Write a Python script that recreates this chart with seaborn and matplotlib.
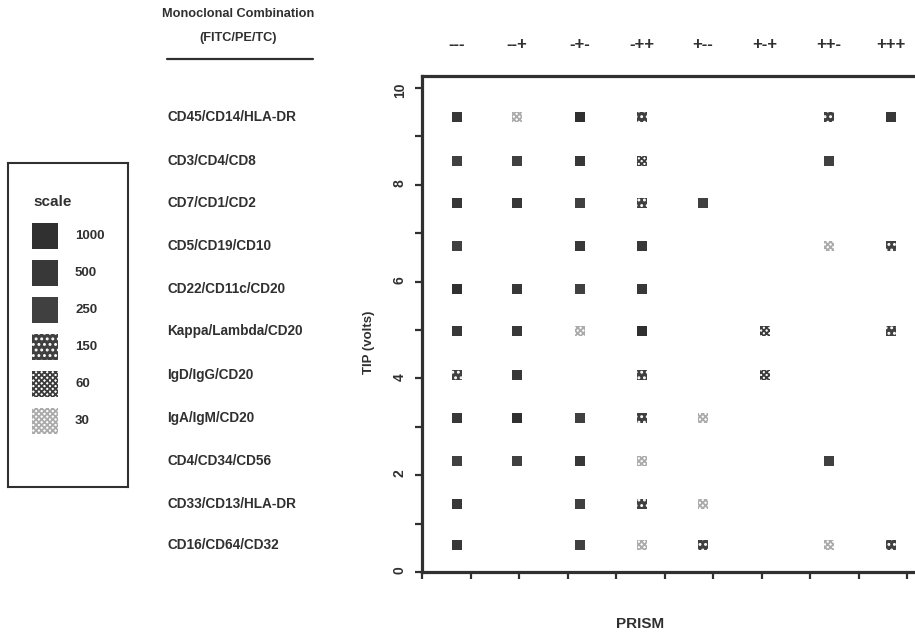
import matplotlib
matplotlib.use("Agg")
import numpy as np
import pandas as pd
import matplotlib.pyplot as plt
import matplotlib.transforms as mtransforms
import seaborn as sns

# antibody triplets (FITC/PE/TC), one per row, top to bottom
combos = ["CD45/CD14/HLA-DR", "CD3/CD4/CD8", "CD7/CD1/CD2", "CD5/CD19/CD10",
          "CD22/CD11c/CD20", "Kappa/Lambda/CD20", "IgD/IgG/CD20", "IgA/IgM/CD20",
          "CD4/CD34/CD56", "CD33/CD13/HLA-DR", "CD16/CD64/CD32"]
tip_volts = [9.4, 8.5, 7.62, 6.74, 5.85, 4.98, 4.07, 3.18, 2.29, 1.4, 0.56]

# sign patterns along PRISM
signs = ["---", "--+", "-+-", "-++", "+--", "+-+", "++-", "+++"]
prism = [0.72, 1.96, 3.26, 4.54, 5.79, 7.07, 8.39, 9.67]

scale = [1000, 500, 250, 150, 60, 30]

# events per cell (0 = empty), rows follow combos, columns follow signs
counts = [
    [500, 30, 1000, 150, 0, 0, 150, 500],
    [250, 250, 500, 60, 0, 0, 250, 0],
    [500, 500, 250, 150, 250, 0, 0, 0],
    [250, 0, 500, 500, 0, 0, 30, 150],
    [1000, 500, 250, 500, 0, 0, 0, 0],
    [500, 500, 30, 1000, 0, 60, 0, 150],
    [150, 500, 0, 150, 0, 60, 0, 0],
    [500, 1000, 250, 150, 30, 0, 0, 0],
    [250, 250, 500, 30, 0, 0, 250, 0],
    [500, 0, 250, 150, 30, 0, 0, 0],
    [500, 0, 250, 30, 150, 0, 30, 150],
]

recs = []
for name, y, row in zip(combos, tip_volts, counts):
    for x, n in zip(prism, row):
        if n:
            recs.append({"combo": name, "prism": x, "tip": y, "events": n})
df = pd.DataFrame(recs)

ink = "#303030"
# fill, hatch colour, hatch pattern for each scale step
look = {
    1000: ("#303030", "#303030", None),
    500: ("#383838", "#383838", None),
    250: ("#404040", "#404040", None),
    150: ("#404040", "#ffffff", "..."),
    60: ("#ffffff", "#3c3c3c", "xxxxxx"),
    30: ("#ffffff", "#ababab", "xxxxxx"),
}

sns.set_style("ticks")
plt.rcParams["font.family"] = ["Liberation Sans", "DejaVu Sans"]
plt.rcParams["font.weight"] = "bold"
plt.rcParams["hatch.linewidth"] = 1.3

W, H = 915, 634
fig = plt.figure(figsize=(W / 100, H / 100), dpi=100)
fig.patch.set_facecolor("white")

def box(l, t, r, b):
    return [l / W, 1 - b / H, (r - l) / W, (b - t) / H]

ax = fig.add_axes(box(422, 76, 915, 572))
for lv in scale:
    sub = df[df["events"] == lv]
    if sub.empty:
        continue
    fc, hc, ht = look[lv]
    sns.scatterplot(data=sub, x="prism", y="tip", marker="s", s=52,
                    color=fc, edgecolor=hc, linewidth=0, hatch=ht,
                    legend=False, ax=ax)

ax.set_xlim(0, 10.16)
ax.set_ylim(0, 10.25)
ax.set_xticks(range(0, 11))
ax.set_xticklabels([])
ax.set_yticks(range(0, 11, 2))
ax.set_yticks(range(1, 11, 2), minor=True)
ax.tick_params(axis="both", which="both", direction="out", length=5,
               width=1.6, color=ink, labelcolor=ink)
ax.tick_params(axis="y", labelrotation=90, labelsize=10, pad=6)
for side in ["top", "left", "bottom"]:
    ax.spines[side].set_linewidth(2.3)
    ax.spines[side].set_color(ink)
ax.spines["right"].set_visible(False)

ax.set_xlabel("PRISM", fontsize=11, fontweight="bold", color=ink)
ax.xaxis.set_label_coords(0.442, -0.09)
ax.set_ylabel("TIP (volts)", fontsize=9.5, fontweight="bold", color=ink)
ax.yaxis.set_label_coords(-0.095, 0.464)

top = ax.secondary_xaxis("top")
top.set_xticks(prism, labels=signs)
top.tick_params(length=0, pad=17, labelsize=12, labelcolor=ink)
top.spines["top"].set_visible(False)

# row names sit left of the axes, on the same data rows
rows_tr = mtransforms.blended_transform_factory(fig.transFigure, ax.transData)
for name, y in zip(combos, tip_volts):
    ax.text(167 / W, y, name, transform=rows_tr, ha="left", va="center",
            fontsize=9.8, fontweight="bold", color=ink, clip_on=False)

fig.text(238 / W, 1 - 14 / H, "Monoclonal Combination", ha="center", va="center",
         fontsize=9.2, fontweight="bold", color=ink)
fig.text(238 / W, 1 - 38 / H, "(FITC/PE/TC)", ha="center", va="center",
         fontsize=9.2, fontweight="bold", color=ink)
fig.add_artist(plt.Line2D([167 / W, 313 / W], [1 - 59 / H, 1 - 59 / H],
                          color=ink, linewidth=1.6))

# scale key
lg = fig.add_axes(box(8, 163, 128, 487))
key = pd.DataFrame({"events": scale, "pos": np.arange(len(scale))})
for lv, pos in zip(key["events"], key["pos"]):
    fc, hc, ht = look[lv]
    sns.scatterplot(x=[37], y=[pos], marker="s", s=330, color=fc,
                    edgecolor=hc, linewidth=0, hatch=ht, legend=False, ax=lg)
    lg.text(67, pos, str(lv), ha="left", va="center", fontsize=9.5,
            fontweight="bold", color=ink)
lg.text(25, -0.92, "scale", ha="left", va="center", fontsize=11,
        fontweight="bold", color=ink)
lg.set_xlim(0, 120)
lg.set_ylim(6.78, -1.97)
lg.set_xticks([])
lg.set_yticks([])
lg.set_xlabel("")
lg.set_ylabel("")
for sp in lg.spines.values():
    sp.set_linewidth(1.5)
    sp.set_color(ink)

fig.savefig("out.png", dpi=100)
